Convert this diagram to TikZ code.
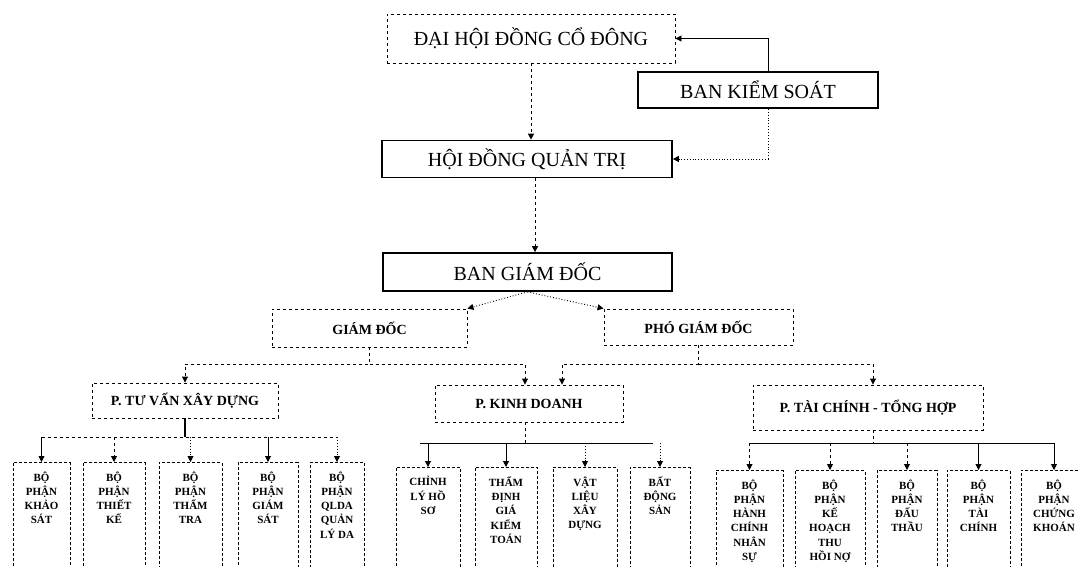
\documentclass[tikz,border=0pt]{standalone}
\usepackage{fontspec}
\setmainfont{Liberation Serif}
\usetikzlibrary{arrows.meta}
\tikzset{
  bigbox/.style={draw, line width=1.7pt, inner sep=0pt, font=\fontsize{20}{22}\selectfont},
  dashbox/.style={draw, dashed, line width=0.9pt, inner sep=0pt},
  midbox/.style={dashbox, font=\bfseries\fontsize{14}{16}\selectfont},
  leaf/.style={dashbox, densely dashed, anchor=north, align=center, inner xsep=0pt, inner ysep=9pt,
    text depth=110pt, font=\bfseries\fontsize{11}{14.3}\selectfont},
  arr/.style={-{Triangle[length=6pt,width=6pt]}, line width=0.9pt},
  link/.style={line width=0.9pt}
}
\begin{document}
\begin{tikzpicture}[x=1pt, y=-1pt]
  \path[use as bounding box, clip] (0,0) rectangle (1079,566);

  % upper levels
  \node[bigbox, dashed, line width=0.9pt, minimum width=288, minimum height=49] (dhdcd) at (531,38.5) {ĐẠI HỘI ĐỒNG CỔ ĐÔNG};
  \node[bigbox, minimum width=240, minimum height=36] (bks) at (758,90) {BAN KIỂM SOÁT};
  \node[bigbox, minimum width=290, minimum height=37] (hdqt) at (527,159) {HỘI ĐỒNG QUẢN TRỊ};
  \node[bigbox, minimum width=289, minimum height=38] (bgd) at (527.5,272) {BAN GIÁM ĐỐC};

  \node[midbox, minimum width=195, minimum height=38] (gd) at (369.5,328) {GIÁM ĐỐC};
  \node[midbox, minimum width=189, minimum height=36] (pgd) at (698.5,327) {PHÓ GIÁM ĐỐC};

  \node[midbox, minimum width=186, minimum height=35] (tvxd) at (185,400.5) {P. TƯ VẤN XÂY DỰNG};
  \node[midbox, minimum width=188, minimum height=37] (kd) at (529,403.5) {P. KINH DOANH};
  \node[midbox, minimum width=230, minimum height=45] (tc) at (868,407.5) {P. TÀI CHÍNH - TỔNG HỢP};

  % leaves of P. TU VAN XAY DUNG
  \node[leaf, minimum width=57] (l1) at (41.5,462) {BỘ\\PHẬN\\KHẢO\\SÁT};
  \node[leaf, minimum width=62] (l2) at (114,462) {BỘ\\PHẬN\\THIẾT\\KẾ};
  \node[leaf, minimum width=63] (l3) at (190.5,462) {BỘ\\PHẬN\\THẨM\\TRA};
  \node[leaf, minimum width=60] (l4) at (268,462) {BỘ\\PHẬN\\GIÁM\\SÁT};
  \node[leaf, minimum width=54] (l5) at (337,462) {BỘ\\PHẬN\\QLDA\\QUẢN\\LÝ DA};

  % leaves of P. KINH DOANH
  \node[leaf, minimum width=64] (m1) at (428,467) {CHỈNH\\LÝ HỒ\\SƠ};
  \node[leaf, minimum width=62] (m2) at (506,467) {THẨM\\ĐỊNH\\GIÁ\\KIỂM\\TOÁN};
  \node[leaf, minimum width=64] (m3) at (585,467) {VẬT\\LIỆU\\XÂY\\DỰNG};
  \node[leaf, minimum width=60] (m4) at (660,467) {BẤT\\ĐỘNG\\SẢN};

  % leaves of P. TAI CHINH - TONG HOP
  \node[leaf, minimum width=67] (r1) at (749.5,470) {BỘ\\PHẬN\\HÀNH\\CHÍNH\\NHÂN\\SỰ};
  \node[leaf, minimum width=70] (r2) at (830,470) {BỘ\\PHẬN\\KẾ\\HOẠCH\\THU\\HỒI NỢ};
  \node[leaf, minimum width=60] (r3) at (907,470) {BỘ\\PHẬN\\ĐẤU\\THẦU};
  \node[leaf, minimum width=63] (r4) at (978.5,470) {BỘ\\PHẬN\\TÀI\\CHÍNH};
  \node[leaf, minimum width=66] (r5) at (1054,470) {BỘ\\PHẬN\\CHỨNG\\KHOÁN};

  \coordinate (busA) at (0,364);
  \coordinate (busL) at (0,437);
  \coordinate (busM) at (0,443);

  % top connectors
  \draw[arr, dashed] (dhdcd.south) -- (dhdcd.south |- hdqt.north);
  \draw[arr] ([xshift=10pt]bks.north) |- (dhdcd.east);
  \draw[arr, dotted] ([xshift=10pt]bks.south) |- (hdqt.east);
  \draw[arr, dashed] ([xshift=8pt]hdqt.south) -- ([xshift=8pt]hdqt.south |- bgd.north);
  \draw[arr, dotted] (bgd.south) -- (gd.north east);
  \draw[arr, dotted] (bgd.south) -- (pgd.north west);

  % directors to departments
  \draw[arr, dashed] (gd.south) -- (gd.south |- busA) -| (tvxd.north);
  \draw[arr, dashed] (gd.south |- busA) -| ([xshift=-4pt]kd.north);
  \draw[arr, dashed] (pgd.south) -- (pgd.south |- busA) -| ([xshift=33pt]kd.north);
  \draw[arr, dashed] (pgd.south |- busA) -| ([xshift=5pt]tc.north);

  % departments to sections
  \draw[link, line width=1.6pt] (tvxd.south) -- (tvxd.south |- busL);
  \draw[link, dashed] (l1.north |- busL) -- (l5.north |- busL);
  \foreach \n/\s in {l1/solid, l2/dashed, l3/dotted, l4/solid, l5/dotted}
    \draw[arr, \s] (\n.north |- busL) -- (\n.north);

  \draw[link, dashed] ([xshift=-4pt]kd.south) -- ([xshift=-4pt]kd.south |- busM);
  \draw[link] ([xshift=-8pt]m1.north |- busM) -- ([xshift=-7pt]m4.north |- busM);
  \foreach \n/\s in {m1/solid, m2/solid, m3/dotted, m4/dotted}
    \draw[arr, \s] (\n.north |- busM) -- (\n.north);

  \draw[link, dashed] ([xshift=5pt]tc.south) -- ([xshift=5pt]tc.south |- busM);
  \draw[link] (r1.north |- busM) -- (r5.north |- busM);
  \foreach \n/\s in {r1/dashed, r2/dashed, r3/dashed, r4/solid, r5/solid}
    \draw[arr, \s] (\n.north |- busM) -- (\n.north);
\end{tikzpicture}
\end{document}
